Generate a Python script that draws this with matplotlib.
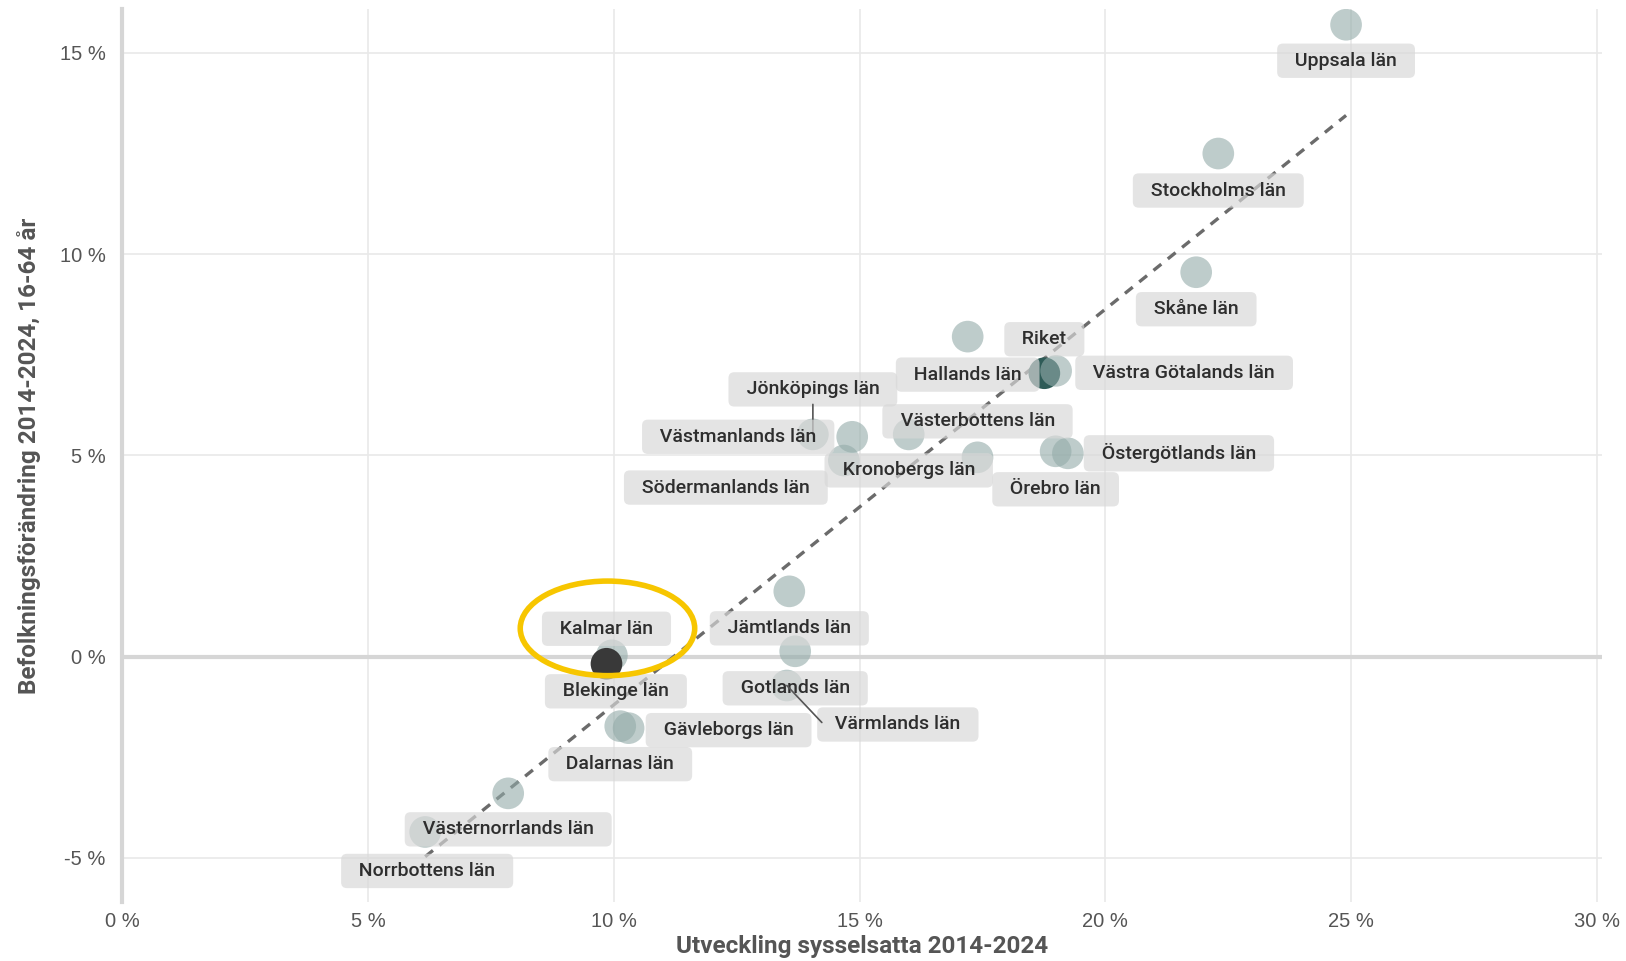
import numpy as np
import matplotlib.pyplot as plt
from matplotlib.patches import Ellipse

# data: employment change (x) and population change 16-64 (y), in percent
lan = ["Uppsala län", "Stockholms län", "Skåne län", "Hallands län", "Riket",
       "Västra Götalands län", "Jönköpings län", "Västmanlands län", "Kronobergs län",
       "Västerbottens län", "Södermanlands län", "Örebro län", "Östergötlands län",
       "Jämtlands län", "Gotlands län", "Värmlands län", "Blekinge län", "Kalmar län",
       "Dalarnas län", "Gävleborgs län", "Västernorrlands län", "Norrbottens län"]
syss = [24.9, 22.3, 21.85, 17.2, 18.76, 19.0, 14.05, 14.85, 16.0, 17.4, 14.68,
        18.99, 19.24, 13.57, 13.69, 13.52, 9.96, 9.85, 10.13, 10.3, 7.85, 6.16]
befolk = [15.7, 12.5, 9.55, 7.95, 7.04, 7.1, 5.52, 5.46, 5.52, 4.95, 4.87,
          5.1, 5.05, 1.62, 0.13, -0.72, 0.03, -0.18, -1.73, -1.78, -3.4, -4.36]

# label offsets in pixels (dx, dy) relative to the point
label_off = {
    "Uppsala län": (0, -36), "Stockholms län": (0, -37), "Skåne län": (0, -37),
    "Hallands län": (0, -38), "Riket": (0, 34), "Västra Götalands län": (128, -2),
    "Jönköpings län": (0, 45), "Västmanlands län": (-114, 0), "Kronobergs län": (0, -36),
    "Västerbottens län": (0, 36), "Södermanlands län": (-118, -27), "Örebro län": (0, -38),
    "Östergötlands län": (111, 0), "Jämtlands län": (0, -37), "Gotlands län": (0, -37),
    "Värmlands län": (111, -39), "Blekinge län": (4, -36), "Kalmar län": (0, 35),
    "Dalarnas län": (0, -38), "Gävleborgs län": (100, -2),
    "Västernorrlands län": (0, -36), "Norrbottens län": (2, -39),
}
# leader lines: end point offset (pixels) from the data point
leaders = {"Jönköpings län": (0, 30), "Värmlands län": (35, -37)}

fig = plt.figure(figsize=(16.26, 9.61), dpi=100)
ax = fig.add_axes([0.0753, 0.0614, 0.9097, 0.9296])
ax.set_xlim(0, 30.1)
ax.set_ylim(-6.1, 16.1)

ax.set_xticks(range(0, 31, 5))
ax.set_yticks(range(-5, 16, 5))
ax.grid(True, color='#e9e9e9', lw=1.2, zorder=0)
ax.set_axisbelow(True)
ax.axhline(0, color='#d6d6d6', lw=3, zorder=1)
for s in ['top', 'right', 'bottom']:
    ax.spines[s].set_visible(False)
ax.spines['left'].set_color('#d6d6d6')
ax.spines['left'].set_linewidth(3)
ax.tick_params(length=0, labelsize=14.5, labelcolor='#555555', pad=12)
ax.set_xticklabels([f"{t} %" for t in range(0, 31, 5)], family='Liberation Sans')
ax.set_yticklabels([f"{t} %" for t in range(-5, 16, 5)], family='Liberation Sans')
ax.tick_params(axis='x', pad=7)

# trend line
k, m = np.polyfit(syss, befolk, 1)
xs = np.array([min(syss), max(syss)])
ax.plot(xs, k * xs + m, ls=(0, (3, 2.5)), color='#6b6b6b', lw=2.4, zorder=2)

colors = []
for n in lan:
    if n == "Riket":
        colors.append('#2e5b57')
    elif n == "Kalmar län":
        colors.append('#393939')
    else:
        colors.append('#93aba9')
alphas = [1.0 if n in ("Riket", "Kalmar län") else 0.6 for n in lan]
for x, y, c, a in zip(syss, befolk, colors, alphas):
    ax.scatter(x, y, s=520, color=c, alpha=a, edgecolors='none', zorder=3)

for n, x, y in zip(lan, syss, befolk):
    dx, dy = label_off[n]
    ax.annotate("  " + n + "  ", (x, y), xytext=(dx, dy), textcoords='offset pixels',
                ha='center', va='center', fontsize=14, family='Roboto',
                fontweight='medium', color='#2e2e2e', zorder=4,
                bbox=dict(boxstyle='round,pad=0.42,rounding_size=0.3',
                          fc='#d8d8d8', ec='none', alpha=0.68))
    if n in leaders:
        ax.annotate("", (x, y), xytext=leaders[n], textcoords='offset pixels',
                    arrowprops=dict(arrowstyle='-', color='#555555', lw=1.2,
                                    shrinkA=0, shrinkB=0), zorder=4)

# highlight ring around Kalmar
ax.add_patch(Ellipse((9.87, 0.7), 3.55, 2.35, fill=False, ec='#f7c600', lw=4, zorder=5))

ax.set_xlabel("Utveckling sysselsatta 2014-2024", fontsize=17.5, fontweight='bold',
              color='#555555', family='Roboto')
ax.set_ylabel("Befolkningsförändring 2014-2024, 16-64 år", fontsize=17.5,
              fontweight='bold', color='#555555', family='Roboto')
ax.xaxis.set_label_coords(0.5, -0.037)
ax.yaxis.set_label_coords(-0.055, 0.5)

fig.savefig("out.png", dpi=100)
